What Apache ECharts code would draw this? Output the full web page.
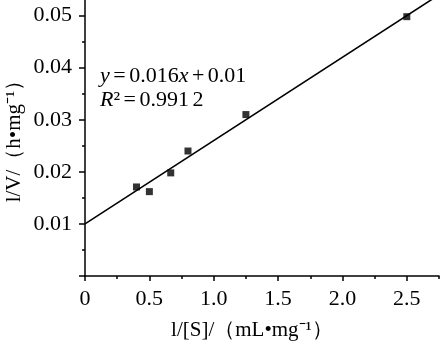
<!DOCTYPE html>
<html><head><meta charset="utf-8">
<script src="https://cdn.jsdelivr.net/npm/echarts@6/dist/echarts.min.js"></script>
<style>html,body{margin:0;padding:0;background:#fff}#c{width:444px;height:345px}</style>
</head><body><div id="c"></div>
<script>
const xValues = [0.40, 0.50, 0.666, 0.80, 1.25, 2.50];
const yValues = [0.0171, 0.0162, 0.0198, 0.0240, 0.0310, 0.0498];
const fitX = [0, 2.75];
const fitY = [0.010, 0.054];
const xMajor = [0, 0.5, 1.0, 1.5, 2.0, 2.5];
const xMinor = [0.25, 0.75, 1.25, 1.75, 2.25, 2.75];
const yMajor = [0, 0.01, 0.02, 0.03, 0.04, 0.05];
const yMinor = [0.005, 0.015, 0.025, 0.035, 0.045];
const xLabels = ['0', '0.5', '1.0', '1.5', '2.0', '2.5'];
const yLabels = ['', '0.01', '0.02', '0.03', '0.04', '0.05'];

const F = '"Liberation Serif", "Times New Roman", serif';
const chart = echarts.init(document.getElementById('c'), null, {renderer: 'canvas'});
const grid = {left: 85, right: 5, top: 0, bottom: 69};
const xmin = 0, xmax = 2.75, ymin = 0, ymax = 0.053;
function fmt(arr, lab) { return v => { const i = arr.findIndex(a => Math.abs(a - v) < 1e-9); return i >= 0 ? lab[i] : ''; }; }
const richEq = {
  i: {fontFamily: F, fontStyle: 'italic', fontSize: 22, fill: '#000'},
  n: {fontFamily: F, fontSize: 22, fill: '#000'},
  s: {fontFamily: F, fontSize: 14, fill: '#000'}
};

chart.setOption({
  animation: false,
  grid: grid,
  xAxis: [{
    type: 'value', min: xmin, max: xmax, position: 'bottom',
    splitLine: {show: false},
    axisLine: {show: true, onZero: false, lineStyle: {color: '#000', width: 1.5}},
    axisTick: {show: true, length: 5, customValues: xMajor, lineStyle: {color: '#000', width: 1.5}},
    axisLabel: {show: true, customValues: xMajor, formatter: fmt(xMajor, xLabels), margin: 12,
      color: '#000', fontFamily: F, fontSize: 22}
  }, {
    type: 'value', min: xmin, max: xmax, position: 'bottom',
    splitLine: {show: false}, axisLine: {show: false},
    axisTick: {show: true, length: 3, customValues: xMinor, lineStyle: {color: '#000', width: 1.5}},
    axisLabel: {show: false}
  }],
  yAxis: [{
    type: 'value', min: ymin, max: ymax, position: 'left',
    splitLine: {show: false},
    axisLine: {show: true, onZero: false, lineStyle: {color: '#000', width: 1.5}},
    axisTick: {show: true, length: 6, customValues: yMajor, lineStyle: {color: '#000', width: 1.5}},
    axisLabel: {show: true, customValues: yMajor, formatter: fmt(yMajor, yLabels), margin: 13,
      color: '#000', fontFamily: F, fontSize: 22}
  }, {
    type: 'value', min: ymin, max: ymax, position: 'left',
    splitLine: {show: false}, axisLine: {show: false},
    axisTick: {show: true, length: 3, customValues: yMinor, lineStyle: {color: '#000', width: 1.5}},
    axisLabel: {show: false}
  }],
  series: [{
    type: 'line', data: fitX.map((x, i) => [x, fitY[i]]),
    showSymbol: false, symbol: 'none', lineStyle: {color: '#000', width: 1.6}, clip: true, z: 2
  }, {
    type: 'scatter', data: xValues.map((x, i) => [x, yValues[i]]),
    symbol: 'rect', symbolSize: 7, itemStyle: {color: '#000'}, z: 3
  }],
  graphic: [{
    type: 'text', left: 100, top: 65,
    style: {rich: richEq, text: '{i|y}{s| }{n|=}{s| }{n|0.016}{i|x}{s| }{n|+}{s| }{n|0.01}'}
  }, {
    type: 'text', left: 100, top: 89,
    style: {rich: richEq, text: '{i|R}{n|²}{s| }{n|=}{s| }{n|0.991}{s| }{n|2}'}
  }, {
    type: 'text', x: 252, y: 330,
    style: {text: 'l/[S]/（mL•mg⁻¹）', font: '21px ' + F, fill: '#000', textAlign: 'center', textVerticalAlign: 'middle'}
  }, {
    type: 'text', x: 14, y: 136, rotation: Math.PI / 2,
    style: {text: 'l/V/（h•mg⁻¹）', font: '21px ' + F, fill: '#000', textAlign: 'center', textVerticalAlign: 'middle'}
  }]
});
</script></body></html>
